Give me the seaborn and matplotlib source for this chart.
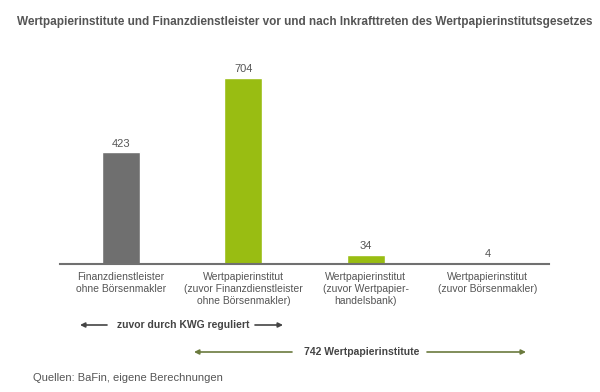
"""
Wertpapierinstitute vs Finanzdienstleister, bar chart with annotation arrows.
"""

import matplotlib
matplotlib.use('Agg')
import matplotlib.pyplot as plt
import seaborn as sns
import pandas as pd

TITLE = ("Wertpapierinstitute und Finanzdienstleister vor und nach "
         "Inkrafttreten des Wertpapierinstitutsgesetzes")
categories = [
    "Finanzdienstleister\nohne Börsenmakler",
    "Wertpapierinstitut\n(zuvor Finanzdienstleister\nohne Börsenmakler)",
    "Wertpapierinstitut\n(zuvor Wertpapier-\nhandelsbank)",
    "Wertpapierinstitut\n(zuvor Börsenmakler)",
]
values = [423, 704, 34, 4]
colors = ["#6f6f6f", "#99bd12", "#99bd12", "#99bd12"]
SOURCE = "Quellen: BaFin, eigene Berechnungen"
KWG_TEXT = "zuvor durch KWG reguliert"
WPI_TEXT = "742 Wertpapierinstitute"

TEXT_GREY = "#555555"

sns.set_style("white")
plt.rcParams['font.family'] = ['Liberation Sans', 'DejaVu Sans']

df = pd.DataFrame({"cat": categories, "val": values})

fig = plt.figure(figsize=(6, 3.92), dpi=100)
ax = fig.add_axes([0.10, 0.3265, 0.815, 0.5388])

sns.barplot(data=df, x="cat", y="val", hue="cat", palette=colors,
            width=0.31, legend=False, ax=ax, saturation=1)

ax.set_ylim(0, 800)
ax.set_xlim(-0.5, 3.5)
for s in ["top", "right", "left"]:
    ax.spines[s].set_visible(False)
ax.spines["bottom"].set_color("#707070")
ax.spines["bottom"].set_linewidth(1.5)
ax.set_yticks([])
ax.set_xlabel("")
ax.set_ylabel("")
ax.tick_params(axis='x', length=0, pad=6, labelsize=7.5, labelcolor=TEXT_GREY)

for i, v in enumerate(values):
    ax.text(i, v + 14, str(v), ha='center', va='bottom',
            fontsize=8, color=TEXT_GREY)

fig.text(0.508, 0.944, TITLE, ha='center', va='center', fontsize=8.45,
         fontweight='bold', color=TEXT_GREY)

# KWG arrows
y1 = 1 - 325 / 392
fig.text(0.305, y1, KWG_TEXT, ha='center', va='center', fontsize=7.5,
         fontweight='bold', color="#444444")
ap_dark = dict(arrowstyle='-|>', color="#444444", lw=1.2,
               mutation_scale=7, shrinkA=0, shrinkB=0)
fig.add_artist(matplotlib.patches.FancyArrowPatch(
    (107 / 600, y1), (80 / 600, y1), transform=fig.transFigure, **ap_dark))
fig.add_artist(matplotlib.patches.FancyArrowPatch(
    (255 / 600, y1), (283 / 600, y1), transform=fig.transFigure, **ap_dark))

# 742 arrows
y2 = 1 - 352 / 392
fig.text(0.602, y2, WPI_TEXT, ha='center', va='center', fontsize=7.5,
         fontweight='bold', color="#444444")
ap_green = dict(arrowstyle='-|>', color="#6b7a3e", lw=1.2,
                mutation_scale=7, shrinkA=0, shrinkB=0)
fig.add_artist(matplotlib.patches.FancyArrowPatch(
    (292 / 600, y2), (194 / 600, y2), transform=fig.transFigure, **ap_green))
fig.add_artist(matplotlib.patches.FancyArrowPatch(
    (427 / 600, y2), (526 / 600, y2), transform=fig.transFigure, **ap_green))

fig.text(33 / 600, 1 - 378 / 392, SOURCE, ha='left', va='center',
         fontsize=8, color=TEXT_GREY)

plt.savefig("out.png", dpi=100)
plt.close()
